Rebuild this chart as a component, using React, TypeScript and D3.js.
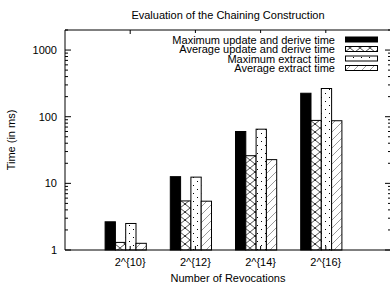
import React from "react";
import * as d3 from "d3";

const categories = ["2^{10}", "2^{12}", "2^{14}", "2^{16}"];
const seriesNames = [
  "Maximum update and derive time",
  "Average update and derive time",
  "Maximum extract time",
  "Average extract time",
];
const maxUpdate = [2.65, 12.6, 60, 225];
const avgUpdate = [1.3, 5.45, 26, 88];
const maxExtract = [2.5, 12.4, 65, 265];
const avgExtract = [1.26, 5.4, 22.7, 87];
const yTicks = [1, 10, 100, 1000];
const seriesValues = [maxUpdate, avgUpdate, maxExtract, avgExtract];
const fills = ["#000", "url(#pCross)", "url(#pDots)", "url(#pHatch)"];

const W = 390;
const H = 286;
const M = { left: 65, right: -1, top: 30, bottom: 36 };
const FONT = "'Liberation Sans', Arial, Helvetica, sans-serif";
const FS = 11;

export default function App() {
  const x = d3.scaleLinear().domain([-1, 4]).range([M.left, W - M.right]);
  const y = d3.scaleLog().domain([1, 2000]).range([H - M.bottom, M.top]);
  const unit = x(1) - x(0);
  const bw = unit * 0.158;
  const off = -unit * 0.385;
  const minor: number[] = [];
  for (let d = 1; d <= 1000; d *= 10) {
    for (let k = 2; k <= 9; k++) {
      const v = d * k;
      if (v <= 2000) minor.push(v);
    }
  }
  const x0 = M.left;
  const x1 = W - M.right;
  const y0 = H - M.bottom;
  const y1 = M.top;
  const legendY = (i: number) => 39.5 + i * 9.5;

  return (
    <svg
      width={W}
      height={H}
      style={{ position: "absolute", left: 0, top: 0, background: "#fff" }}
      fontFamily={FONT}
    >
      <defs>
        <pattern id="pCross" patternUnits="userSpaceOnUse" width="10" height="8">
          <rect width="10" height="8" fill="#fff" />
          <path d="M0,0L10,8M0,8L10,0" stroke="#000" strokeWidth="0.7" />
          <rect x="4.5" y="3.5" width="1.2" height="1.2" fill="#000" />
        </pattern>
        <pattern id="pDots" patternUnits="userSpaceOnUse" width="8" height="8">
          <rect width="8" height="8" fill="#fff" />
          <rect x="1" y="1" width="1" height="1" fill="#000" />
          <rect x="5" y="5" width="1" height="1" fill="#000" />
        </pattern>
        <pattern id="pHatch" patternUnits="userSpaceOnUse" width="8" height="8">
          <rect width="8" height="8" fill="#fff" />
          <path d="M0,8L8,0M-2,2L2,-2M6,10L10,6" stroke="#555" strokeWidth="0.6" />
        </pattern>
      </defs>

      <text x={228} y={18.5} fontSize={FS} textAnchor="middle" fill="#000">
        Evaluation of the Chaining Construction
      </text>

      {categories.map((c, i) =>
        seriesValues.map((vals, k) => {
          const bx = x(i) + off + k * bw;
          const top = y(vals[i]);
          return (
            <rect
              key={c + k}
              x={bx}
              y={top}
              width={bw}
              height={y0 - top}
              fill={fills[k]}
              stroke="#000"
              strokeWidth={1}
            />
          );
        })
      )}

      <path
        d={`M${x1},${y1}H${x0}V${y0}H${x1}V${y1}`}
        fill="none"
        stroke="#000"
        strokeWidth={1}
      />

      {yTicks.map((t) => (
        <g key={"yt" + t}>
          <line x1={x0} x2={x0 + 6} y1={y(t)} y2={y(t)} stroke="#000" />
          <line x1={x1} x2={x1 - 6} y1={y(t)} y2={y(t)} stroke="#000" />
          <text x={57} y={y(t) + 4} fontSize={FS} textAnchor="end" fill="#000">
            {t}
          </text>
        </g>
      ))}
      {minor.map((t) => (
        <g key={"ym" + t}>
          <line x1={x0} x2={x0 + 3} y1={y(t)} y2={y(t)} stroke="#000" />
          <line x1={x1} x2={x1 - 3} y1={y(t)} y2={y(t)} stroke="#000" />
        </g>
      ))}

      {categories.map((c, i) => (
        <g key={"xt" + c}>
          <line x1={x(i)} x2={x(i)} y1={y1} y2={y1 + 4} stroke="#000" />
          <line x1={x(i)} x2={x(i)} y1={y0} y2={y0 - 4} stroke="#000" />
          <text x={x(i)} y={265.5} fontSize={FS} textAnchor="middle" fill="#000">
            {c}
          </text>
        </g>
      ))}

      <text x={228} y={281.5} fontSize={FS} textAnchor="middle" fill="#000">
        Number of Revocations
      </text>
      <text
        transform={`translate(15,${(y0 + y1) / 2}) rotate(-90)`}
        fontSize={FS}
        textAnchor="middle"
        fill="#000"
      >
        Time (in ms)
      </text>

      <rect x={150} y={33} width={232} height={40} fill="#fff" />
      {seriesNames.map((s, k) => (
        <g key={"lg" + k}>
          <text x={335} y={legendY(k) + 4} fontSize={FS} textAnchor="end" fill="#000">
            {s}
          </text>
          <rect
            x={345.5}
            y={legendY(k) - 2.5}
            width={32}
            height={5}
            fill={fills[k]}
            stroke="#000"
            strokeWidth={1}
          />
        </g>
      ))}
    </svg>
  );
}
